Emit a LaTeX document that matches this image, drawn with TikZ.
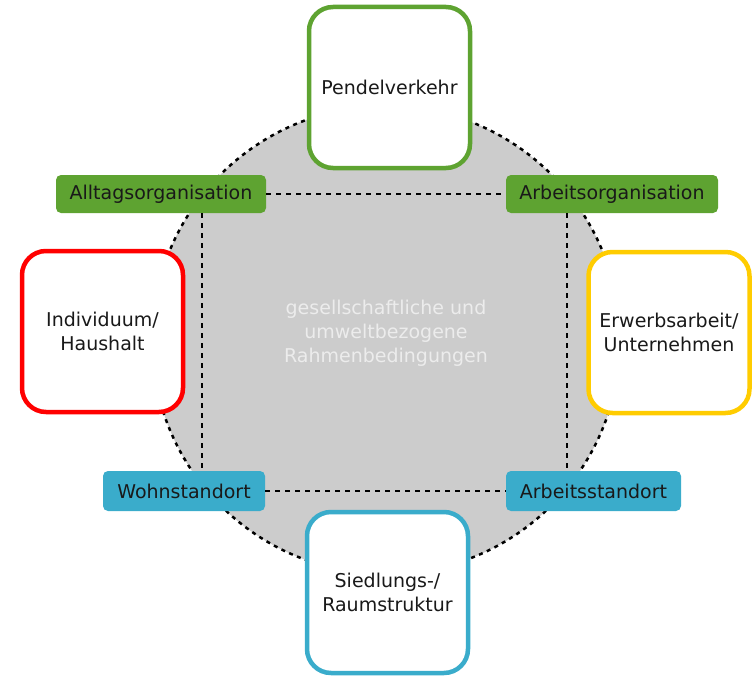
\documentclass[tikz,border=0pt]{standalone}
\usepackage{fontspec}
\setmainfont{DejaVu Sans}
\definecolor{cgreen}{HTML}{5EA331}
\definecolor{cred}{HTML}{FF0000}
\definecolor{cyellow}{HTML}{FFCC00}
\definecolor{cblue}{HTML}{3AACCB}
\definecolor{cgray}{HTML}{CCCCCC}
\definecolor{ctext}{HTML}{ECECEC}
\begin{document}
\begin{tikzpicture}[x=1pt,y=-1pt,
  every node/.style={font=\fontsize{19}{24}\selectfont, text=black!90, align=center, inner sep=0pt},
  bigbox/.style={draw=#1, line width=4.5pt, fill=white, rounded corners=24pt, minimum width=161pt, minimum height=161pt},
  tagbox/.style={fill=#1, rounded corners=5pt, minimum height=38pt},
  dashline/.style={line width=2.5pt, dash pattern=on 5pt off 5pt}]
\useasboundingbox (0,0) rectangle (752,677);
% background circle
\node[circle, fill=cgray, draw=black, line width=2.5pt, dash pattern=on 4pt off 4.5pt, minimum size=468pt] (circ) at (386,340) {};
% tags
\node[tagbox=cgreen, minimum width=210pt] (allt) at (161,194) {Alltagsorganisation};
\node[tagbox=cgreen, minimum width=212pt] (arbo) at (612,194) {Arbeitsorganisation};
\node[tagbox=cblue, minimum width=162pt, minimum height=40pt] (wohn) at (184,491) {Wohnstandort};
\node[tagbox=cblue, minimum width=175pt, minimum height=40pt] (arbs) at (593.5,491) {Arbeitsstandort};
\coordinate (vl) at (202,0);
\coordinate (vr) at (567,0);
\begin{scope}[on background layer/.style={}]
\draw[dashline] (allt.east) -- (arbo.west);
\draw[dashline] (wohn.east) -- (arbs.west);
\draw[dashline] (allt.south -| vl) -- (wohn.north -| vl);
\draw[dashline] (arbo.south -| vr) -- (arbs.north -| vr);
\end{scope}
% center text
\node[text=ctext] (ctr) at (386,333) {gesellschaftliche und\\umweltbezogene\\Rahmenbedingungen};
% big boxes
\node[bigbox=cgreen] (pend) at (389.5,87.5) {Pendelverkehr};
\node[bigbox=cred] (indiv) at (102.5,331.5) {Individuum/\\Haushalt};
\node[bigbox=cyellow] (erwerb) at (669,332.5) {Erwerbsarbeit/\\Unternehmen};
\node[bigbox=cblue] (sied) at (387.5,592.5) {Siedlungs-/\\Raumstruktur};
\end{tikzpicture}
\end{document}
